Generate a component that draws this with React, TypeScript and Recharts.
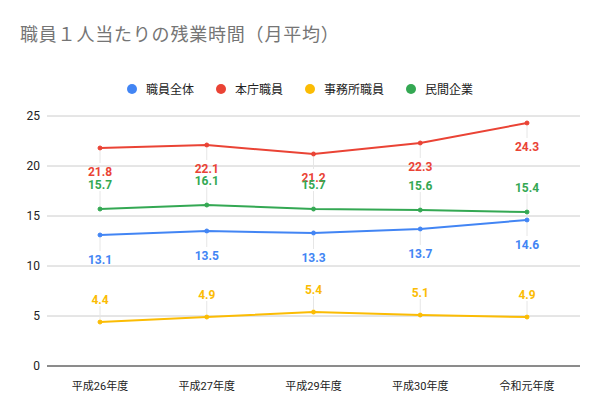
import React from 'react';
import { LineChart, Line, XAxis, YAxis, CartesianGrid, LabelList } from 'recharts';

const categories = ['平成26年度', '平成27年度', '平成29年度', '平成30年度', '令和元年度'];
const allStaff = [13.1, 13.5, 13.3, 13.7, 14.6];
const headOffice = [21.8, 22.1, 21.2, 22.3, 24.3];
const branchOffice = [4.4, 4.9, 5.4, 5.1, 4.9];
const privateSector = [15.7, 16.1, 15.7, 15.6, 15.4];
const yTicks = [0, 5, 10, 15, 20, 25];

const series = [
  { key: 'allStaff', name: '職員全体', color: '#4285f4', labelDy: 26 },
  { key: 'headOffice', name: '本庁職員', color: '#ea4335', labelDy: 25 },
  { key: 'branchOffice', name: '事務所職員', color: '#fbbc04', labelDy: -21 },
  { key: 'privateSector', name: '民間企業', color: '#34a853', labelDy: -23 },
];

const chartData = categories.map((name, i) => ({
  name,
  allStaff: allStaff[i],
  headOffice: headOffice[i],
  branchOffice: branchOffice[i],
  privateSector: privateSector[i],
}));

const font = 'Roboto, "Noto Sans CJK JP", sans-serif';

const makeLabel = (color: string, dy: number) => (props: any) => {
  const { x, y, value } = props;
  const ly = y + dy;
  const lineEnd = dy > 0 ? ly - 10 : ly + 5;
  return (
    <g>
      <line x1={x} y1={y + (dy > 0 ? 3 : -3)} x2={x} y2={lineEnd} stroke="#e6e6e6" strokeWidth={1} />
      <text
        x={x}
        y={ly}
        textAnchor="middle"
        dominantBaseline="middle"
        fill={color}
        fontSize={12}
        fontWeight="bold"
        fontFamily={font}
      >
        {value}
      </text>
    </g>
  );
};

const App: React.FC = () => {
  return (
    <div style={{ position: 'absolute', left: 0, top: 0, width: 600, height: 406, background: '#fff', fontFamily: font }}>
      <div
        style={{
          position: 'absolute',
          left: 20,
          top: 20,
          fontSize: 18,
          letterSpacing: 0.8,
          color: '#757575',
          whiteSpace: 'nowrap',
        }}
      >
        職員１人当たりの残業時間（月平均）
      </div>
      <div
        style={{
          position: 'absolute',
          left: 0,
          top: 80,
          width: 600,
          display: 'flex',
          justifyContent: 'center',
          gap: 22,
          fontSize: 12,
          color: '#222',
        }}
      >
        {series.map((s) => (
          <div key={s.key} style={{ display: 'flex', alignItems: 'center' }}>
            <span
              style={{ width: 10, height: 10, borderRadius: 5, background: s.color, display: 'inline-block', marginRight: 9 }}
            />
            <span>{s.name}</span>
          </div>
        ))}
      </div>
      <div style={{ position: 'absolute', left: 0, top: 0 }}>
        <LineChart width={600} height={406} data={chartData} margin={{ top: 116, right: 20, left: 0, bottom: 10 }}>
          <CartesianGrid vertical={false} stroke="#cccccc" />
          <XAxis
            dataKey="name"
            padding={{ left: 53, right: 53 }}
            tickLine={false}
            axisLine={{ stroke: '#333333' }}
            tick={{ fontSize: 11, fill: '#222', fontFamily: font }}
            tickMargin={10}
            height={30}
          />
          <YAxis
            domain={[0, 25]}
            ticks={yTicks}
            width={47}
            axisLine={false}
            tickLine={false}
            tickSize={0}
            tickMargin={7}
            tick={{ fontSize: 12, fill: '#222', fontFamily: font }}
          />
          {series.map((s) => (
            <Line
              key={s.key}
              dataKey={s.key}
              name={s.name}
              stroke={s.color}
              strokeWidth={2}
              dot={{ r: 2, fill: s.color, stroke: s.color, strokeWidth: 1 }}
              isAnimationActive={false}
            >
              <LabelList dataKey={s.key} content={makeLabel(s.color, s.labelDy)} />
            </Line>
          ))}
        </LineChart>
      </div>
    </div>
  );
};

export default App;
